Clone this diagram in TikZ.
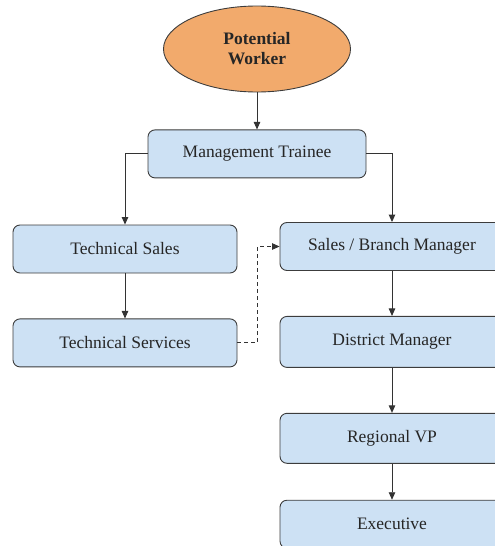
\documentclass[tikz,border=0pt]{standalone}
\usepackage{fontspec}
\setmainfont{Liberation Serif}
\usepackage{tikz}
\usetikzlibrary{arrows.meta,positioning,shapes}
\usepackage{xcolor}
\definecolor{boxblue}{RGB}{205,225,244}
\definecolor{boxline}{RGB}{60,60,60}
\definecolor{workerorange}{RGB}{242,170,108}

\begin{document}
\begin{tikzpicture}[
    x=1pt, y=1pt,
    node distance=45pt,
    box/.style={draw=boxline, fill=boxblue, line width=0.9pt, minimum width=224pt, minimum height=48pt, rounded corners=7pt, font=\fontsize{17.5}{20}\selectfont, text=black!85},
    worker/.style={ellipse, draw=boxline, fill=workerorange, line width=0.9pt, minimum width=187pt, minimum height=86pt, align=center, font=\fontsize{17.5}{20}\selectfont\bfseries, text=black!85},
    arrow/.style={-{Triangle[length=7.5pt,width=6.5pt]}, line width=0.9pt, draw=black!80},
    dasharrow/.style={arrow, dash pattern=on 4pt off 3pt}
  ]
  \useasboundingbox (0,0) rectangle (495,-546);
  \clip (0,0) rectangle (495,-546);

  % Main components
  \node[worker] (worker) at (257,-49) {Potential\\Worker};
  \node[box, minimum width=218pt, below=37pt of worker] (trainee) {Management Trainee};

  % Technical track
  \node[box] (techsales) at (125,-249) {Technical Sales};
  \node[box, below=45pt of techsales] (techservices) {Technical Services};

  % Management track
  \node[box] (branch) at (392,-246.5) {Sales / Branch Manager};
  \node[box, minimum height=51pt, below=45pt of branch] (district) {District Manager};
  \node[box, minimum height=50pt, below=45pt of district] (regional) {Regional VP};
  \node[box, below=36pt of regional] (executive) {Executive};

  % Connections
  \draw[arrow] (worker) -- (trainee);
  \draw[arrow] (trainee.west) -| (techsales.north);
  \draw[arrow] (trainee.east) -| (branch.north);
  \draw[arrow] (techsales) -- (techservices);
  \draw[dasharrow] (techservices.east) -- ++(20,0) |- (branch.west);
  \draw[arrow] (branch) -- (district);
  \draw[arrow] (district) -- (regional);
  \draw[arrow] (regional) -- (executive);

\end{tikzpicture}
\end{document}
